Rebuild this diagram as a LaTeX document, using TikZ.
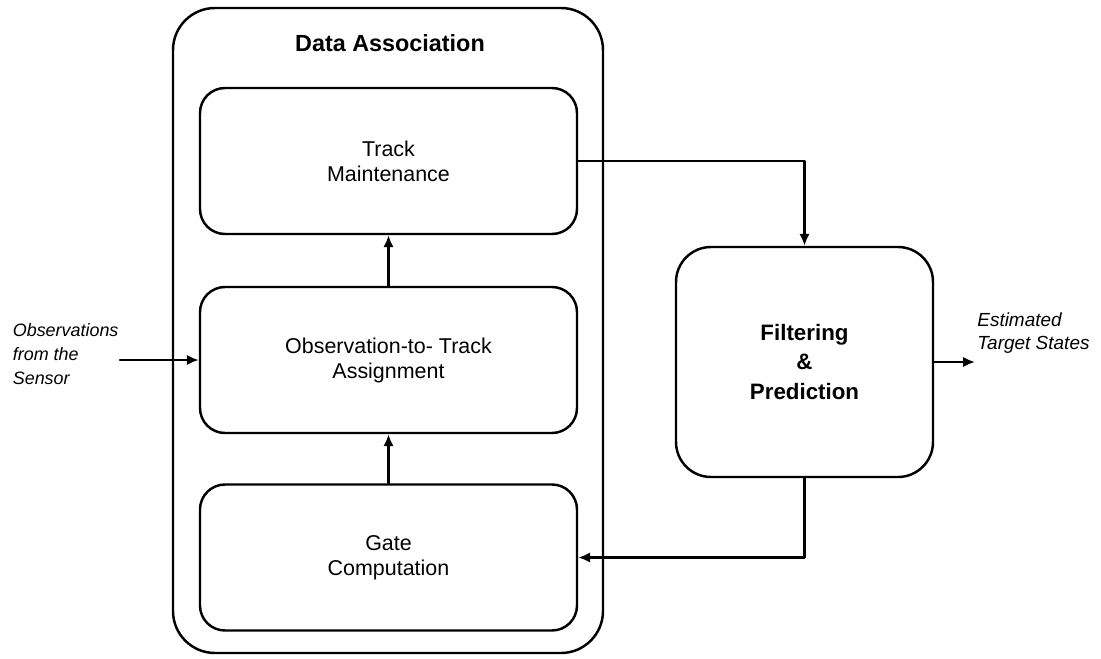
\documentclass[tikz,border=0pt]{standalone}
\usepackage{fontspec}
\setmainfont{Liberation Sans}
\usetikzlibrary{positioning,arrows.meta}
\begin{document}
\begin{tikzpicture}[>={Latex[length=2.4mm,width=2.1mm]}, line join=round, line cap=round,
  blk/.style={draw, line width=1.4pt, rounded corners=0.5cm, minimum width=7.54cm, minimum height=2.92cm, align=center, font=\fontsize{12.2}{14.2}\selectfont},
  lnk/.style={->, line width=1.5pt}]
\useasboundingbox (0,0) rectangle (22.02,-13.16);
% data association block
\node[draw, line width=1.4pt, rounded corners=0.84cm, minimum width=8.6cm, minimum height=12.9cm] (da) at (7.76,-6.61) {};
\node[font=\bfseries\fontsize{13.3}{16}\selectfont] (datitle) at (7.8,-0.86) {Data Association};
\node[blk] (track) at (7.77,-3.22) {Track\\Maintenance};
\node[blk] (assign) at (7.77,-7.2) {Observation-to- Track\\Assignment};
\node[blk] (gate) at (7.77,-11.15) {Gate\\Computation};
% filter block
\node[draw, line width=1.4pt, rounded corners=0.7cm, minimum width=5.14cm, minimum height=4.6cm, align=center, font=\bfseries\fontsize{12.7}{17}\selectfont] (filt) at (16.09,-7.24) {Filtering\\\&\\Prediction};
% outside labels
\node[anchor=west, align=left, inner sep=0, font=\itshape\fontsize{10.2}{13.6}\selectfont] (obs) at (0.25,-7.08) {Observations\\from the\\Sensor};
\node[anchor=west, align=left, inner sep=0, font=\itshape\fontsize{10.8}{13.2}\selectfont] (est) at (19.54,-6.66) {Estimated\\Target States};
\coordinate (obsin) at (2.4,-7.2);
\coordinate (estout) at (19.5,-7.24);
% connectors
\draw[lnk] (obsin) -- (assign.west);
\draw[lnk] (gate.north) -- (assign.south);
\draw[lnk] (assign.north) -- (track.south);
\draw[lnk] (track.east) -| (filt.north);
\draw[lnk] (filt.south) |- (gate.east);
\draw[lnk] (filt.east) -- (estout);
\end{tikzpicture}
\end{document}
